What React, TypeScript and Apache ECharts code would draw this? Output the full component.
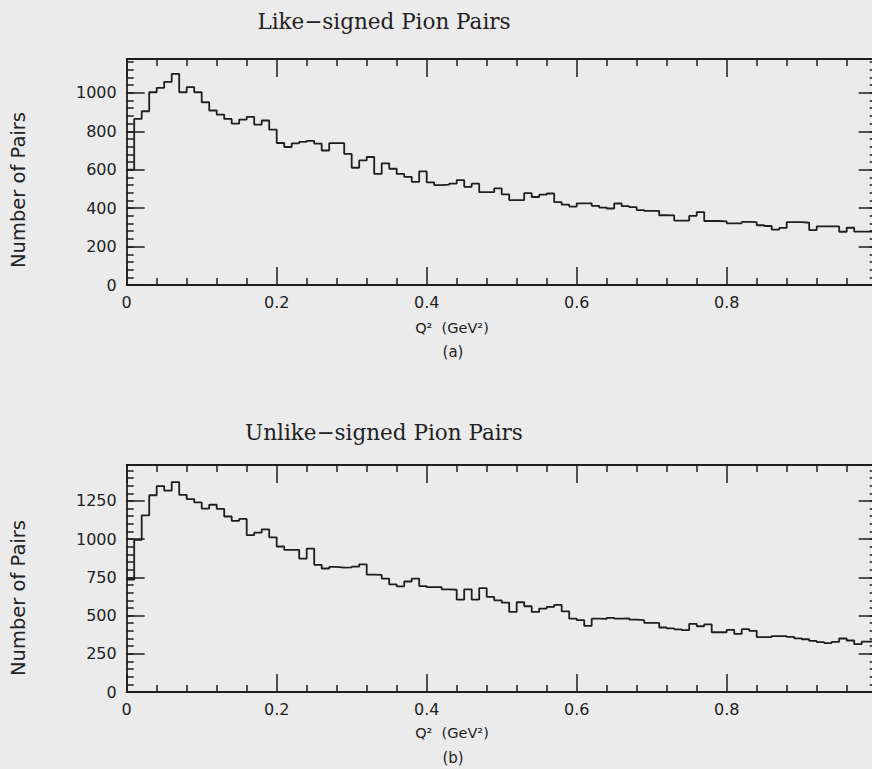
import React, { useEffect, useRef } from 'react';
import * as echarts from 'echarts';

// Histogram contents, 100 bins of width 0.01 GeV^2 from Q^2 = 0 to 1
const binWidth = 0.01;

const likeSigned = [
  600, 864, 904, 1003, 1026, 1057, 1099, 1003, 1030, 1003,
  951, 908, 887, 864, 840, 861, 875, 835, 856, 809,
  739, 718, 737, 745, 750, 736, 700, 738, 738, 682,
  610, 648, 666, 578, 633, 605, 578, 563, 537, 591,
  534, 520, 522, 528, 546, 511, 527, 483, 483, 503,
  472, 442, 442, 478, 458, 470, 476, 431, 418, 408,
  425, 425, 412, 403, 398, 424, 410, 405, 390, 386,
  386, 363, 362, 335, 335, 360, 379, 333, 333, 331,
  321, 321, 328, 327, 311, 307, 288, 297, 327, 327,
  324, 286, 305, 305, 305, 277, 298, 278, 278, 279,
];

const unlikeSigned = [
  735, 995, 1155, 1287, 1347, 1317, 1373, 1290, 1262, 1241,
  1200, 1225, 1198, 1148, 1120, 1132, 1026, 1042, 1064, 1012,
  952, 930, 930, 873, 938, 832, 808, 818, 814, 815,
  820, 835, 768, 766, 742, 704, 691, 723, 742, 693,
  686, 686, 672, 669, 604, 672, 604, 679, 622, 600,
  585, 524, 587, 561, 524, 546, 557, 570, 527, 480,
  470, 432, 480, 478, 485, 480, 482, 474, 470, 452,
  452, 422, 416, 410, 405, 446, 430, 443, 391, 391,
  407, 380, 411, 400, 359, 359, 366, 365, 360, 351,
  345, 334, 326, 320, 328, 350, 337, 313, 330, 331,
];

const xTickLabels = ['0', '0.2', '0.4', '0.6', '0.8', '1'];
const likeYTickLabels = ['0', '200', '400', '600', '800', '1000'];
const unlikeYTickLabels = ['0', '250', '500', '750', '1000', '1250'];

const panelTitles = ['Like−signed Pion Pairs', 'Unlike−signed Pion Pairs'];
const panelTags = ['(a)', '(b)'];
const xAxisTitle = 'Q²  (GeV²)';
const yAxisTitle = 'Number of Pairs';

const INK = '#1e1e1e';
const PAPER = '#ebebeb';

function steps(values: number[]) {
  const pts = values.map((v, i) => [i * binWidth, v]);
  pts.push([values.length * binWidth, values[values.length - 1]]);
  return pts;
}

function labelFor(labels: string[], step: number) {
  return (v: number) => {
    const k = Math.round(v / step);
    if (Math.abs(v - k * step) < 1e-6 && k >= 0 && k < labels.length) return labels[k];
    return '';
  };
}

const lineStyle = { color: INK, width: 1.8 };
const tickFont = { fontFamily: 'DejaVu Sans', fontSize: 16, color: '#222' };

function xAxes(gridIndex: number) {
  const base = {
    gridIndex,
    type: 'value',
    min: 0,
    max: 1,
    interval: 0.2,
    axisLine: { show: true, onZero: false, lineStyle },
    axisTick: { show: true, inside: true, length: 18, lineStyle: { color: INK, width: 1.5 } },
    minorTick: { show: true, splitNumber: 5, length: 7, lineStyle: { color: INK, width: 1.5 } },
    splitLine: { show: false },
    minorSplitLine: { show: false },
  };
  return [
    { ...base, position: 'bottom', axisLabel: { ...tickFont, margin: 9, formatter: labelFor(xTickLabels, 0.2) } },
    { ...base, position: 'top', axisLabel: { show: false } },
  ];
}

function yAxes(gridIndex: number, max: number, major: number, minor: number, labels: string[]) {
  const mk = (position: string, interval: number, len: number, showLine: boolean, withLabels: boolean) => ({
    gridIndex,
    type: 'value',
    position,
    min: 0,
    max,
    interval,
    axisLine: { show: showLine, onZero: false, lineStyle },
    axisTick: { show: true, inside: true, length: len, lineStyle: { color: INK, width: 1.5 } },
    splitLine: { show: false },
    axisLabel: withLabels
      ? { ...tickFont, margin: 10, formatter: labelFor(labels, major) }
      : { show: false },
  });
  return [
    mk('left', major, 18, true, true),
    mk('left', minor, 7, false, false),
    mk('right', major, 18, true, false),
    mk('right', minor, 7, false, false),
  ];
}

export default function App() {
  const ref = useRef<HTMLDivElement>(null);

  useEffect(() => {
    document.body.style.margin = '0';
    document.body.style.background = PAPER;
    if (!ref.current) return;
    const chart = echarts.init(ref.current, undefined, { renderer: 'svg' });

    const grids = [
      { left: 126.7, top: 59, width: 750, height: 226 },
      { left: 126.7, top: 465, width: 750, height: 227 },
    ];

    const textStyle = (font: string, size: number) => ({
      fill: '#222',
      fontFamily: font,
      fontSize: size,
      textAlign: 'center',
      textVerticalAlign: 'middle',
    });

    const graphic: any[] = [];
    const titleY = [21, 432];
    const xTitleY = [328, 733];
    const tagY = [352, 758];
    const yTitleY = [190, 598];
    for (let p = 0; p < 2; p++) {
      graphic.push({ type: 'text', x: 384, y: titleY[p], style: { text: panelTitles[p], ...textStyle('DejaVu Serif', 21.5) } });
      graphic.push({ type: 'text', x: 452, y: xTitleY[p], style: { text: xAxisTitle, ...textStyle('DejaVu Sans', 14.5) } });
      graphic.push({ type: 'text', x: 453, y: tagY[p], style: { text: panelTags[p], ...textStyle('DejaVu Sans', 15) } });
      graphic.push({
        type: 'text', x: 18, y: yTitleY[p], rotation: Math.PI / 2,
        style: { text: yAxisTitle, ...textStyle('DejaVu Sans', 19.5) },
      });
    }

    chart.setOption({
      animation: false,
      backgroundColor: PAPER,
      grid: grids,
      xAxis: [...xAxes(0), ...xAxes(1)],
      yAxis: [
        ...yAxes(0, 1176, 200, 40, likeYTickLabels),
        ...yAxes(1, 1485, 250, 50, unlikeYTickLabels),
      ],
      graphic,
      series: [
        {
          type: 'line', xAxisIndex: 0, yAxisIndex: 0, data: steps(likeSigned), step: 'end',
          symbol: 'none', silent: true, lineStyle: { color: INK, width: 1.8 },
        },
        {
          type: 'line', xAxisIndex: 2, yAxisIndex: 4, data: steps(unlikeSigned), step: 'end',
          symbol: 'none', silent: true, lineStyle: { color: INK, width: 1.8 },
        },
      ],
    });

    return () => chart.dispose();
  }, []);

  return (
    <div style={{ width: 872, height: 769, overflow: 'hidden', background: PAPER }}>
      <div ref={ref} style={{ width: 892, height: 769 }} />
    </div>
  );
}
